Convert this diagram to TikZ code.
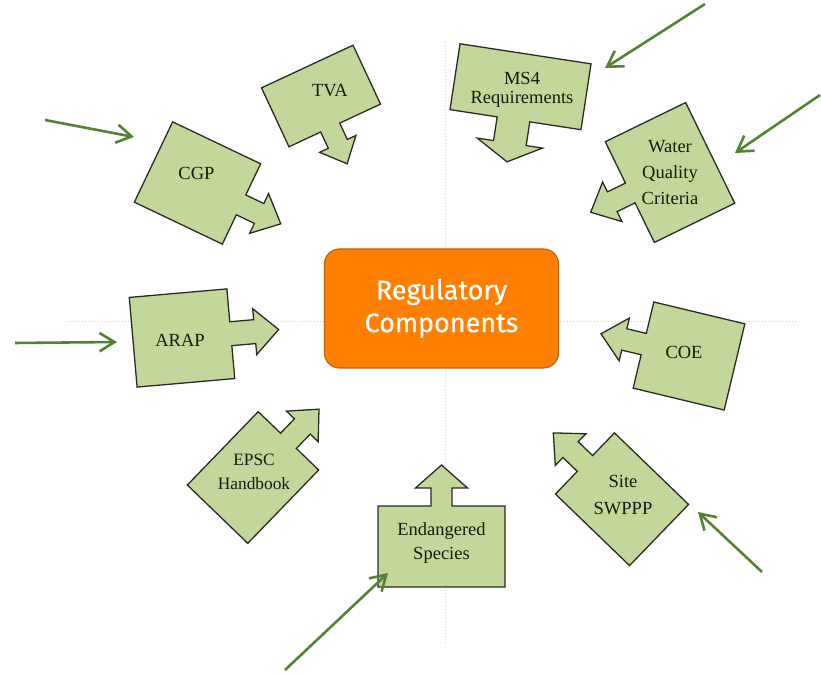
\documentclass[tikz,border=0pt]{standalone}
\usepackage{fontspec}
\setmainfont{Liberation Serif}
\newfontfamily\hubfont[FakeBold=0.6]{Fira Sans}
\usetikzlibrary{arrows.meta}
\definecolor{partgreen}{RGB}{196,215,155}
\definecolor{partline}{RGB}{40,42,35}
\definecolor{partink}{RGB}{22,28,12}
\definecolor{hubfill}{RGB}{255,128,0}
\definecolor{hubline}{RGB}{196,96,16}
\definecolor{pointergreen}{RGB}{84,130,53}
\tikzset{
  rb shaft/.store in=\rbs, rb head/.store in=\rbh,
  rb len/.store in=\rbl, rb tip/.store in=\rbt,
  rb shaft=11, rb head=22, rb len=20, rb tip=24,
  pics/regblock/.style n args={3}{code={
    \draw[fill=partgreen,draw=partline,line width=1.1pt,line join=miter]
      (-#1/2,-#2/2) -- (#1/2,-#2/2) -- (#1/2,#3-\rbs) -- (#1/2+\rbl,#3-\rbs)
      -- (#1/2+\rbl,#3-\rbh) -- (#1/2+\rbl+\rbt,#3) -- (#1/2+\rbl,#3+\rbh)
      -- (#1/2+\rbl,#3+\rbs) -- (#1/2,#3+\rbs) -- (#1/2,#2/2) -- (-#1/2,#2/2) -- cycle;
  }},
  parttext/.style={text=partink,align=center,font=\fontsize{15.8}{21}\selectfont},
  hub/.style={draw=hubline,fill=hubfill,line width=1pt,rounded corners=0.45cm,
    minimum width=7.02cm,minimum height=3.57cm,inner sep=0pt,align=center,
    text=white,font=\hubfont\fontsize{23}{28}\selectfont},
  pointer/.style={draw=pointergreen,line width=2.2pt,
    -{Straight Barb[length=4.5mm,width=5.5mm]}},
  guide/.style={draw=gray!40,dotted,line width=0.6pt}
}
\begin{document}
\begin{tikzpicture}[x=0.03cm,y=0.03cm]
    \useasboundingbox (0,0) rectangle (821,673);
    \draw[guide] (67,352) -- (798,352);
    \draw[guide] (445,631) -- (445,30);
    \node[hub] (hub) at (441.5,364.5) {Regulatory\\Components};

    \pic[rotate=-65,rb shaft=10.5,rb head=20,rb len=18,rb tip=22] at (321,577) {regblock={65}{101}{-5}};
    \node[parttext] (tva) at (330,582) {TVA};
    \pic[rotate=-25.5] at (197.5,490) {regblock={97.5}{89}{-1}};
    \node[parttext] (cgp) at (196.5,499.5) {CGP};
    \pic[rotate=5,rb shaft=12,rb head=23,rb len=24] at (182,335) {regblock={98}{90}{0}};
    \node[parttext] (arap) at (180,333) {ARAP};
    \pic[rotate=46] at (253,195.5) {regblock={102}{84}{0}};
    \node[parttext,font=\fontsize{14.8}{20}\selectfont] (epsc) at (254,201) {EPSC\\Handbook};
    \pic[rotate=90,rb shaft=10.5,rb head=26,rb len=18,rb tip=23] at (441.5,126.5) {regblock={81}{127}{0}};
    \node[parttext] (species) at (441.5,130) {Endangered\\Species};
    \pic[rotate=136] at (622,173.75) {regblock={103}{85}{0}};
    \node[parttext,font=\fontsize{15.8}{23.5}\selectfont] (swppp) at (623,178) {Site\\SWPPP};
    \pic[rotate=166.5] at (689,317) {regblock={93.6}{88.6}{-1}};
    \node[parttext] (coe) at (684,321) {COE};
    \pic[rotate=-154] at (670,500.5) {regblock={89.4}{112}{1}};
    \node[parttext,font=\fontsize{15.8}{22}\selectfont] (wqc) at (670,500.5) {Water\\Quality\\Criteria};
    \pic[rotate=-98.7,rb shaft=16.5,rb head=33,rb len=24,rb tip=19] at (520.5,586.25) {regblock={66.6}{132.5}{-2}};
    \node[parttext,font=\fontsize{15.8}{16}\selectfont] (ms4) at (522,583) {MS4\\Requirements};

    \coordinate (cgpFrom) at (45,553);
    \coordinate (cgpTo) at (134,536);
    \coordinate (arapFrom) at (15,330);
    \coordinate (arapTo) at (117,331);
    \coordinate (ms4From) at (705,669);
    \coordinate (ms4To) at (605,605);
    \coordinate (wqcFrom) at (820,578);
    \coordinate (wqcTo) at (735,520);
    \coordinate (speciesFrom) at (285,3);
    \coordinate (speciesTo) at (388,100);
    \coordinate (swpppFrom) at (762,101);
    \coordinate (swpppTo) at (698,161);
    \draw[pointer] (cgpFrom) -- (cgpTo);
    \draw[pointer] (arapFrom) -- (arapTo);
    \draw[pointer] (ms4From) -- (ms4To);
    \draw[pointer] (wqcFrom) -- (wqcTo);
    \draw[pointer] (speciesFrom) -- (speciesTo);
    \draw[pointer] (swpppFrom) -- (swpppTo);
\end{tikzpicture}
\end{document}
